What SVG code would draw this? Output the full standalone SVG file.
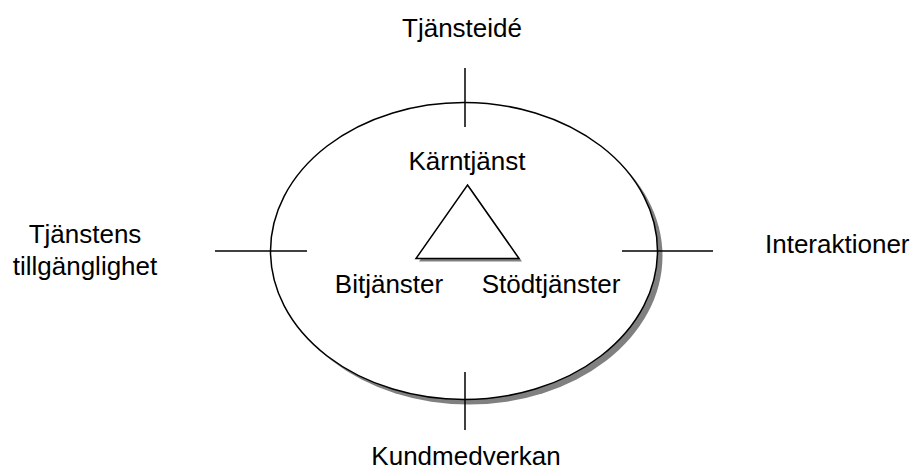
<svg xmlns="http://www.w3.org/2000/svg" width="912" height="472" viewBox="0 0 912 472">
<style>
.lbl{font-family:"Liberation Sans",Arial,sans-serif;font-size:26px;fill:#000}
.ln{stroke:#000;stroke-width:1.5;fill:none}
.sh{fill:#808080;stroke:none}
.shp{fill:#fff;stroke:#000;stroke-width:1.5}
</style>
<rect width="912" height="472" fill="#fff"/>
<g id="ellipse">
<ellipse class="sh" cx="469" cy="256" rx="193.5" ry="148.5"/>
<ellipse class="shp" cx="464" cy="251" rx="193.5" ry="148.5"/>
</g>
<g id="connectors">
<line class="ln" x1="465" y1="68" x2="465" y2="127"/>
<line class="ln" x1="465" y1="372" x2="465" y2="430"/>
<line class="ln" x1="215" y1="251" x2="307" y2="251"/>
<line class="ln" x1="622" y1="251" x2="713" y2="251"/>
</g>
<g id="triangle">
<polygon class="sh" points="470.5,188 522,261.5 419,261.5"/>
<polygon class="shp" points="467.5,185 519,258.5 416,258.5"/>
</g>
<g id="tjansteide"><text class="lbl" x="462" y="37" text-anchor="middle">Tjänsteidé</text></g>
<g id="karntjanst"><text class="lbl" x="467" y="170" text-anchor="middle">Kärntjänst</text></g>
<g id="bitjanster"><text class="lbl" x="389" y="293" text-anchor="middle">Bitjänster</text></g>
<g id="stodtjanster"><text class="lbl" x="551" y="293" text-anchor="middle">Stödtjänster</text></g>
<g id="tillganglighet"><text class="lbl" x="85" y="243" text-anchor="middle">Tjänstens</text><text class="lbl" x="85" y="275" text-anchor="middle">tillgänglighet</text></g>
<g id="interaktioner"><text class="lbl" x="765" y="253">Interaktioner</text></g>
<g id="kundmedverkan"><text class="lbl" x="466" y="465" text-anchor="middle">Kundmedverkan</text></g>
</svg>
